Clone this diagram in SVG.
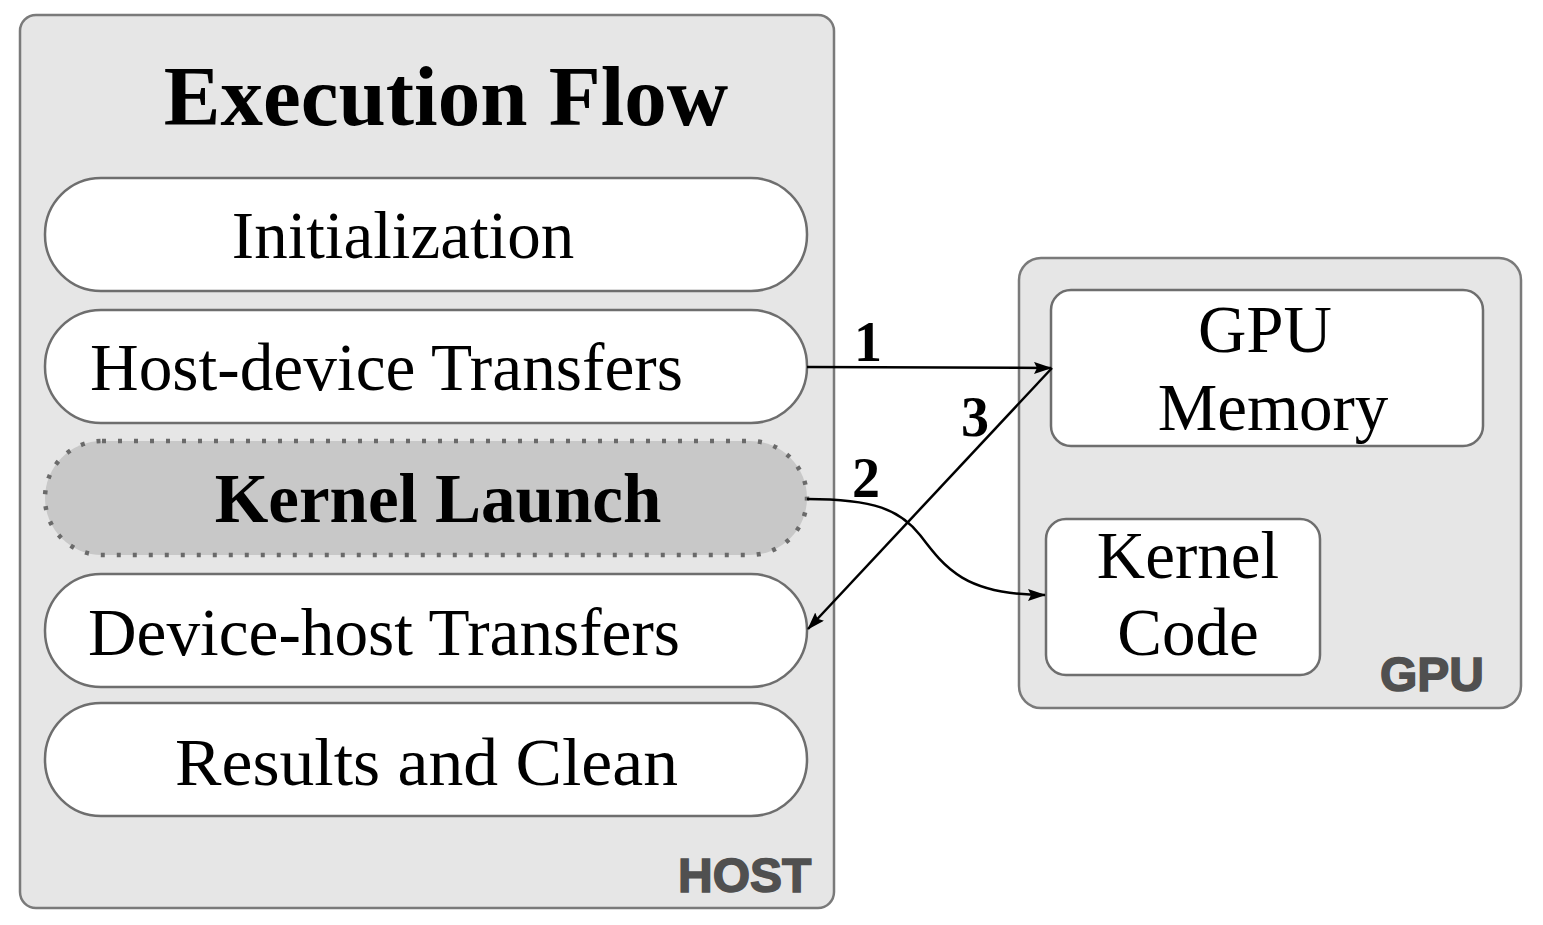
<svg xmlns="http://www.w3.org/2000/svg" width="1543" height="925" viewBox="0 0 1543 925">
<defs>
<style>
.panel{fill:#e6e6e6;stroke:#7a7a7a;stroke-width:2.5}
.pill{fill:#ffffff;stroke:#6e6e6e;stroke-width:2.5}
.box{fill:#ffffff;stroke:#6e6e6e;stroke-width:2.5}
.t{font-family:"Liberation Serif","Times New Roman",serif;fill:#000}
.lab{font-family:"Liberation Sans",Arial,sans-serif;font-weight:bold;font-size:48px;fill:#505050;stroke:#505050;stroke-width:1.5}
.num{font-family:"Liberation Serif","Times New Roman",serif;font-weight:bold;font-size:56px;fill:#000;text-anchor:middle}
.conn{fill:none;stroke:#000;stroke-width:2.5}
</style>
<marker id="ah" viewBox="0 0 18 12" refX="17" refY="6" markerWidth="18" markerHeight="12" markerUnits="userSpaceOnUse" orient="auto">
<path d="M0,0 L18,6 L0,12 L3,6 Z" fill="#000"/>
</marker>
</defs>
<rect width="1543" height="925" fill="#ffffff"/>
<g id="host">
<rect class="panel" x="20" y="15" width="814" height="893" rx="16"/>
<text class="t" x="446" y="125" font-size="85" font-weight="bold" text-anchor="middle">Execution Flow</text>
<text class="lab" x="678" y="892">HOST</text>
</g>
<g id="init">
<rect class="pill" x="45" y="178" width="762" height="113" rx="56"/>
<text class="t" x="403" y="258" font-size="67" text-anchor="middle">Initialization</text>
</g>
<g id="h2d">
<rect class="pill" x="45" y="310" width="762" height="113" rx="56"/>
<text class="t" x="90" y="390" font-size="67" textLength="593" lengthAdjust="spacingAndGlyphs">Host-device Transfers</text>
</g>
<g id="kernel">
<rect x="45" y="441" width="762" height="114" rx="57" fill="#c8c8c8" stroke="#6a6a6a" stroke-width="4.5" stroke-dasharray="4,12"/>
<text class="t" x="438" y="522" font-size="69" font-weight="bold" text-anchor="middle">Kernel Launch</text>
</g>
<g id="d2h">
<rect class="pill" x="45" y="574" width="762" height="113" rx="56"/>
<text class="t" x="88" y="655" font-size="67" textLength="592" lengthAdjust="spacingAndGlyphs">Device-host Transfers</text>
</g>
<g id="results">
<rect class="pill" x="45" y="703" width="762" height="113" rx="56"/>
<text class="t" x="175" y="785" font-size="68" textLength="503" lengthAdjust="spacingAndGlyphs">Results and Clean</text>
</g>
<g id="gpu">
<rect class="panel" x="1019" y="258" width="502" height="450" rx="22"/>
<text class="lab" x="1380" y="691">GPU</text>
</g>
<g id="gpumem">
<rect class="box" x="1051" y="290" width="432" height="156" rx="20"/>
<text class="t" x="1265" y="352" font-size="67" text-anchor="middle">GPU</text>
<text class="t" x="1273" y="430" font-size="67" text-anchor="middle">Memory</text>
</g>
<g id="kcode">
<rect class="box" x="1046" y="519" width="274" height="156" rx="20"/>
<text class="t" x="1188" y="578" font-size="67" text-anchor="middle">Kernel</text>
<text class="t" x="1188" y="655" font-size="67" text-anchor="middle">Code</text>
</g>
<g id="connectors">
<path class="conn" d="M807,367 L1051,368" marker-end="url(#ah)"/>
<path class="conn" d="M1052,368 L808,629" marker-end="url(#ah)"/>
<path class="conn" d="M807,499 C875,499 900,510 920,535 C945,568 965,595 1045,595" marker-end="url(#ah)"/>
<text class="num" x="868" y="361">1</text>
<text class="num" x="866" y="497">2</text>
<text class="num" x="975" y="436">3</text>
</g>
</svg>
